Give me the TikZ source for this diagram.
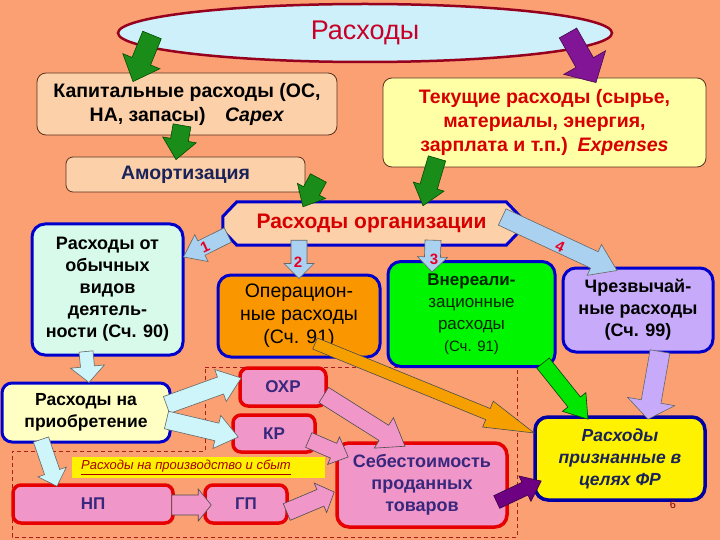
\documentclass[tikz,border=0pt]{standalone}
\usepackage{fontspec}
\setmainfont{Liberation Sans}
\usetikzlibrary{shapes.geometric,calc}
\definecolor{bg}{RGB}{250,160,115}
\definecolor{ellfill}{RGB}{205,240,250}
\definecolor{elldraw}{RGB}{150,0,30}
\definecolor{peach}{RGB}{252,208,168}
\definecolor{lyellow}{RGB}{255,255,165}
\definecolor{boxline}{RGB}{90,50,30}
\definecolor{bblue}{RGB}{0,0,205}
\definecolor{tred}{RGB}{215,0,0}
\definecolor{navy}{RGB}{25,35,90}
\definecolor{lcyan}{RGB}{215,250,235}
\definecolor{operc}{RGB}{250,150,0}
\definecolor{greenc}{RGB}{0,245,0}
\definecolor{lav}{RGB}{200,170,250}
\definecolor{pyellow}{RGB}{255,255,195}
\definecolor{pink}{RGB}{240,150,200}
\definecolor{pred}{RGB}{230,0,0}
\definecolor{ptext}{RGB}{55,40,125}
\definecolor{dgreen}{RGB}{25,140,25}
\definecolor{purp}{RGB}{130,20,150}
\definecolor{dpurp}{RGB}{110,0,130}
\definecolor{lblue}{RGB}{170,210,240}
\definecolor{acyan}{RGB}{205,245,250}
\definecolor{aorange}{RGB}{245,160,0}
\definecolor{agreen}{RGB}{0,230,0}
\definecolor{dashc}{RGB}{170,30,30}
\definecolor{numc}{RGB}{230,0,40}
\definecolor{titlec}{RGB}{200,0,40}
\newcommand\fs[2]{\fontsize{#1}{#2}\selectfont}
\newcommand\blockarrow[6]{%
  \path let \p1=#2, \p2=#3, \n1={atan2(\y2-\y1,\x2-\x1)}, \n2={veclen(\x2-\x1,\y2-\y1)} in
   [#1] [shift={(\p1)}, rotate=\n1]
   (0,-#4) -- (\n2-#6,-#4) -- (\n2-#6,-#5) -- (\n2,0) -- (\n2-#6,#5) -- (\n2-#6,#4) -- (0,#4) -- cycle;}
\tikzset{
  box/.style={rectangle, rounded corners=#1, align=center, inner sep=0pt},
  thinbox/.style={box=9pt, draw=boxline, line width=0.8pt, fill=peach},
  bluebox/.style={box=13pt, draw=bblue, line width=3pt},
  redbox/.style={box=8pt, draw=pred, line width=3.5pt, fill=pink, text=ptext, font=\bfseries\fs{17}{20}},
  arr/.style={draw=#1, line width=0.6pt, line join=miter},
  numlab/.style={text=numc, font=\bfseries\fs{15}{15}, inner sep=0pt},
}
\begin{document}
\begin{tikzpicture}[x=1pt,y=-1pt]
\useasboundingbox (0,0) rectangle (720,540);
\fill[bg] (0,0) rectangle (720,540);
% dashed region
\draw[dashc, line width=0.8pt, dash pattern=on 4pt off 3pt]
  (205,367) -- (517,367) -- (517,537) -- (12,537) -- (12,451) -- (205,451) -- cycle;
% nodes
\node[ellipse, draw=elldraw, line width=2.5pt, fill=ellfill, minimum width=494, minimum height=58,
      inner sep=0pt, text=titlec, font=\fs{27}{27}] (rash) at (365,33) {Расходы};
\node[thinbox, minimum width=300, minimum height=62, font=\bfseries\fs{19.5}{24}] (kap) at (187,104)
  {Капитальные расходы (ОС,\\НА, запасы)\quad\textit{Capex}};
\node[thinbox, fill=lyellow, minimum width=323, minimum height=89, text=tred, font=\bfseries\fs{19.5}{24}] (tek) at (544.5,122.5)
  {Текущие расходы (сырье,\\материалы, энергия,\\зарплата и т.п.)\enspace\textit{Expenses}};
\node[thinbox, box=7pt, minimum width=239, minimum height=35, text=navy, font=\bfseries\fs{19.5}{20}] (amort) at (185.5,174.5) {Амортизация};
\node[rectangle, minimum width=297, minimum height=43, inner sep=0pt] (org) at (371.5,223.5) {};
\filldraw[draw=bblue, line width=3pt, fill=peach, line join=miter]
  ($(org.west)+(0,-7)$) -- ($(org.north west)+(14,0)$) -- ($(org.north east)+(-14,0)$) -- ($(org.east)+(0,-7)$)
  -- ($(org.east)+(0,7)$) -- ($(org.south east)+(-14,0)$) -- ($(org.south west)+(14,0)$) -- ($(org.west)+(0,7)$) -- cycle;
\node[text=tred, font=\bfseries\fs{21}{21}, inner sep=0pt] (orgt) at (org) {Расходы организации};
\node[bluebox, fill=lcyan, minimum width=151, minimum height=131, font=\bfseries\fs{18}{22}] (obych) at (107.5,289.5)
  {Расходы от\\обычных\\видов\\деятель-\\ности (Сч. 90)};
\node[bluebox, fill=operc, minimum width=162, minimum height=82, font=\fs{19.5}{23}] (oper) at (299,316)
  {Операцион-\\ные расходы\\(Сч. 91)};
\node[bluebox, fill=greenc, minimum width=167, minimum height=105, text=black!85!green, font=\fs{17}{22}] (vnereal) at (471.5,314)
  {{\bfseries Внереали-}\\зационные\\расходы\\{\fs{15}{19}(Сч. 91)}};
\node[bluebox, fill=lav, minimum width=150, minimum height=84, font=\bfseries\fs{18}{22}] (chrezv) at (638,310)
  {Чрезвычай-\\ные расходы\\(Сч. 99)};
\node[bluebox, box=10pt, fill=pyellow, minimum width=168, minimum height=59, font=\bfseries\fs{17.5}{22}] (priob) at (86,412.5)
  {Расходы на\\приобретение};
\node[redbox, minimum width=86, minimum height=38] (okhr) at (283,387) {ОХР};
\node[redbox, minimum width=82, minimum height=37] (kr) at (274,433.5) {КР};
\node[fill=yellow, minimum width=253, minimum height=21, inner sep=0pt] (prod) at (198.5,467.5) {};
\node[text=red!65!black, font=\itshape\fs{13}{13}, inner sep=0pt] (prodt) at (186,467.5)
  {\underline{Расходы на производство и сбыт}};
\node[redbox, minimum width=160, minimum height=38] (np) at (93,504) {НП};
\node[redbox, minimum width=82, minimum height=38] (gp) at (246,504) {ГП};
\node[redbox, box=12pt, minimum width=170, minimum height=84, font=\bfseries\fs{18}{22}] (seb) at (422,485)
  {Себестоимость\\проданных\\товаров};
\node[box=13pt, draw=bblue!80!black, line width=3.5pt, fill=yellow, minimum width=170, minimum height=83,
      text=navy, font=\bfseries\itshape\fs{17.5}{22}] (priz) at (620,458.5)
  {Расходы\\признанные в\\целях ФР};
\node[text=red!50!black, font=\fs{11}{11}, inner sep=0pt] (pnum) at (673,505) {6};
% arrows
\blockarrow{fill=dgreen, arr=green!30!black}{($(rash)+(-213,2)$)}{($(kap.north)+(-54,9)$)}{10}{20}{22}
\blockarrow{fill=purp, arr=purp!50!black}{($(rash)+(203,0)$)}{($(tek.north)+(51.5,5)$)}{10}{24}{23}
\blockarrow{fill=dgreen, arr=green!30!black}{($(kap.south)+(-5,-10)$)}{($(amort.north)+(-9.5,3)$)}{9}{17}{20}
\blockarrow{fill=dgreen, arr=green!30!black}{($(amort.east)+(13,3.5)$)}{($(org.north)+(-68.5,5)$)}{9}{16}{18}
\blockarrow{fill=dgreen, arr=green!30!black}{($(tek.south)+(-107.5,-9)$)}{($(org.north)+(51.5,4)$)}{9}{16}{20}
\blockarrow{fill=lblue, arr=black!60}{($(org.west)+(5,11.5)$)}{($(obych.east)+(-1,-32.5)$)}{8}{15}{20}
\blockarrow{fill=lblue, arr=black!60}{($(org.south)+(-72.5,-5)$)}{($(oper.north)+(0,5)$)}{8}{15}{15}
\blockarrow{fill=lblue, arr=black!60}{($(org.south)+(61.5,-5)$)}{($(vnereal.north)+(-39.5,12)$)}{8}{15}{15}
\blockarrow{fill=lblue, arr=black!60}{($(org.east)+(-18,-6.5)$)}{($(chrezv.north)+(-21,4)$)}{9}{17}{25}
\blockarrow{fill=acyan, arr=black!60}{($(obych.south)+(-21.5,-5)$)}{($(priob.north)+(3,1)$)}{7}{17}{16}
\blockarrow{fill=acyan, arr=black!60}{($(priob.east)+(-5,-7.5)$)}{($(okhr.west)+(3,-9)$)}{9}{17}{22}
\blockarrow{fill=acyan, arr=black!60}{($(priob.east)+(-5,7.5)$)}{($(kr.west)+(7,3.5)$)}{9}{17}{22}
\blockarrow{fill=acyan, arr=black!60}{($(priob.south)+(-45,-4)$)}{($(np.north)+(-36,3)$)}{8}{15}{15}
\blockarrow{fill=pink, arr=black!70}{($(np.east)+(-3,1)$)}{($(gp.west)+(8,1)$)}{10}{16}{13}
\blockarrow{fill=pink, arr=black!70}{($(gp.east)+(-2,8)$)}{($(seb.west)+(-1,7)$)}{9}{16}{15}
\blockarrow{fill=pink, arr=black!70}{($(okhr.east)+(-4,8)$)}{($(seb.north)+(-17,5)$)}{9}{18}{25}
\blockarrow{fill=pink, arr=black!70}{($(kr.east)+(-8,6.5)$)}{($(seb.west)+(13,-28)$)}{8}{15}{16}
\blockarrow{fill=aorange, arr=black!70}{($(oper.south)+(16,-15)$)}{($(priz.west)+(1,-25.5)$)}{6}{14}{50}
\blockarrow{fill=agreen, arr=green!25!black}{($(vnereal.south)+(71.5,-5)$)}{($(priz.north)+(-32,4)$)}{8}{15}{22}
\blockarrow{fill=lav, arr=black!60}{($(chrezv.south)+(22,-2)$)}{($(priz.north)+(28,4)$)}{10}{24}{18}
\blockarrow{fill=dpurp, arr=dpurp!50!black}{($(seb.east)+(-12,17)$)}{($(priz.west)+(8,22.5)$)}{7}{14}{18}
% number labels
\node[numlab, rotate=25] (n1) at (205,247) {1};
\node[numlab] (n2) at (298,262) {2};
\node[numlab] (n3) at (434,259) {3};
\node[numlab, rotate=-25] (n4) at (560,247) {4};
\end{tikzpicture}
\end{document}
